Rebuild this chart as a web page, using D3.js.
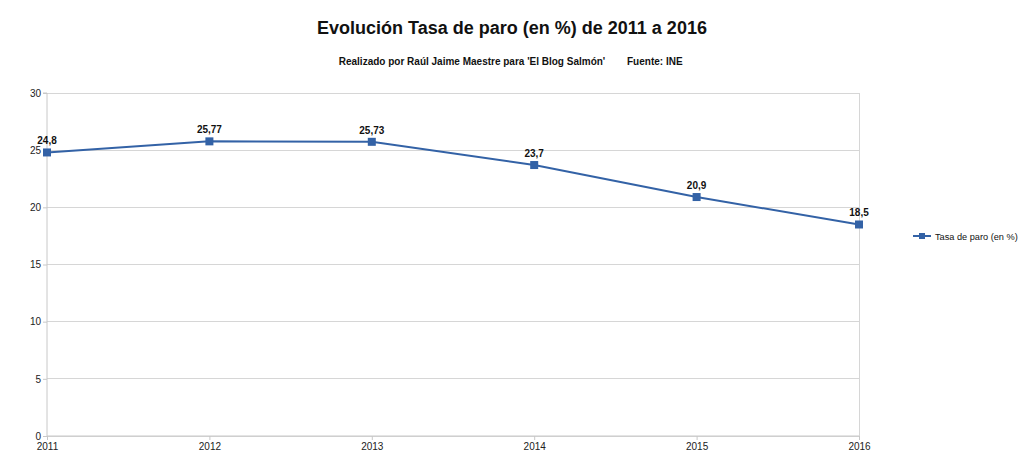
<!DOCTYPE html>
<html><head><meta charset="utf-8">
<script src="https://cdn.jsdelivr.net/npm/d3@7"></script>
<style>body{margin:0;background:#fff}svg{display:block;font-family:"Liberation Sans",Arial,sans-serif}</style>
</head><body><svg id="c" width="1024" height="472"></svg>
<script>
const years = [2011, 2012, 2013, 2014, 2015, 2016];
const values = [24.8, 25.77, 25.73, 23.7, 20.9, 18.5];
const valueLabels = ["24,8", "25,77", "25,73", "23,7", "20,9", "18,5"];
const yTicks = [0, 5, 10, 15, 20, 25, 30];
const seriesName = "Tasa de paro (en %)";
const title = "Evolución Tasa de paro (en %) de 2011 a 2016";
const subtitle = "Realizado por Raúl Jaime Maestre para 'El Blog Salmón'";
const source = "Fuente: INE";

const svg = d3.select("#c");
const L = 47, R = 859, T = 93, B = 436;
const color = "#3362a6";
const x = d3.scalePoint().domain(years).range([L, R]);
const y = d3.scaleLinear().domain([0, 30]).range([B, T]);

svg.append("text").attr("x", 512).attr("y", 34).attr("text-anchor", "middle")
  .attr("font-size", 18).attr("font-weight", "bold").attr("fill", "#111").text(title);
svg.append("text").attr("x", 472).attr("y", 65).attr("text-anchor", "middle")
  .attr("font-size", 10).attr("font-weight", "bold").attr("fill", "#111").text(subtitle);
svg.append("text").attr("x", 627).attr("y", 65)
  .attr("font-size", 10).attr("font-weight", "bold").attr("fill", "#111").text(source);

// grid
svg.append("g").selectAll("line").data(yTicks).join("line")
  .attr("x1", L).attr("x2", R).attr("y1", d => y(d)).attr("y2", d => y(d))
  .attr("stroke", "#d6d6d6").attr("stroke-width", 1).attr("shape-rendering", "crispEdges");
svg.append("line").attr("x1", R).attr("x2", R).attr("y1", T).attr("y2", B)
  .attr("stroke", "#d6d6d6").attr("shape-rendering", "crispEdges");

// y axis
const ya = svg.append("g").attr("transform", `translate(${L},0)`)
  .call(d3.axisLeft(y).tickValues(yTicks).tickSize(4).tickPadding(2));
ya.select(".domain").attr("stroke", "#c8c8c8").attr("d", `M-4,${T}H0V${B}`);
ya.selectAll(".tick line").attr("stroke", "#c8c8c8");
ya.selectAll("text").attr("font-size", 10).attr("fill", "#222").attr("font-family", "Liberation Sans, Arial, sans-serif");

// x axis
const xa = svg.append("g").attr("transform", `translate(0,${B})`)
  .call(d3.axisBottom(x).tickSize(4).tickPadding(3));
xa.select(".domain").attr("stroke", "#c8c8c8").attr("d", `M${L},0H${R}`);
xa.selectAll(".tick line").attr("stroke", "#c8c8c8");
xa.selectAll("text").attr("font-size", 10).attr("fill", "#222").attr("font-family", "Liberation Sans, Arial, sans-serif");

// line
const data = years.map((yr, i) => ({yr, v: values[i], lab: valueLabels[i]}));
svg.append("path").datum(data)
  .attr("d", d3.line().x(d => x(d.yr)).y(d => y(d.v)))
  .attr("fill", "none").attr("stroke", color).attr("stroke-width", 2);
svg.append("g").selectAll("rect").data(data).join("rect")
  .attr("x", d => x(d.yr) - 4).attr("y", d => y(d.v) - 4).attr("width", 8).attr("height", 8)
  .attr("fill", color);
svg.append("g").selectAll("text").data(data).join("text")
  .attr("x", d => x(d.yr)).attr("y", d => y(d.v) - 8).attr("text-anchor", "middle")
  .attr("font-size", 10).attr("font-weight", "bold").attr("fill", "#111").text(d => d.lab);

// legend
const lg = svg.append("g").attr("transform", "translate(913,236)");
lg.append("line").attr("x1", 0).attr("x2", 18).attr("stroke", color).attr("stroke-width", 2);
lg.append("rect").attr("x", 6).attr("y", -3).attr("width", 6).attr("height", 6).attr("fill", color);
lg.append("text").attr("x", 22).attr("y", 3.5).attr("font-size", 9.2).attr("fill", "#111").text(seriesName);
</script></body></html>
